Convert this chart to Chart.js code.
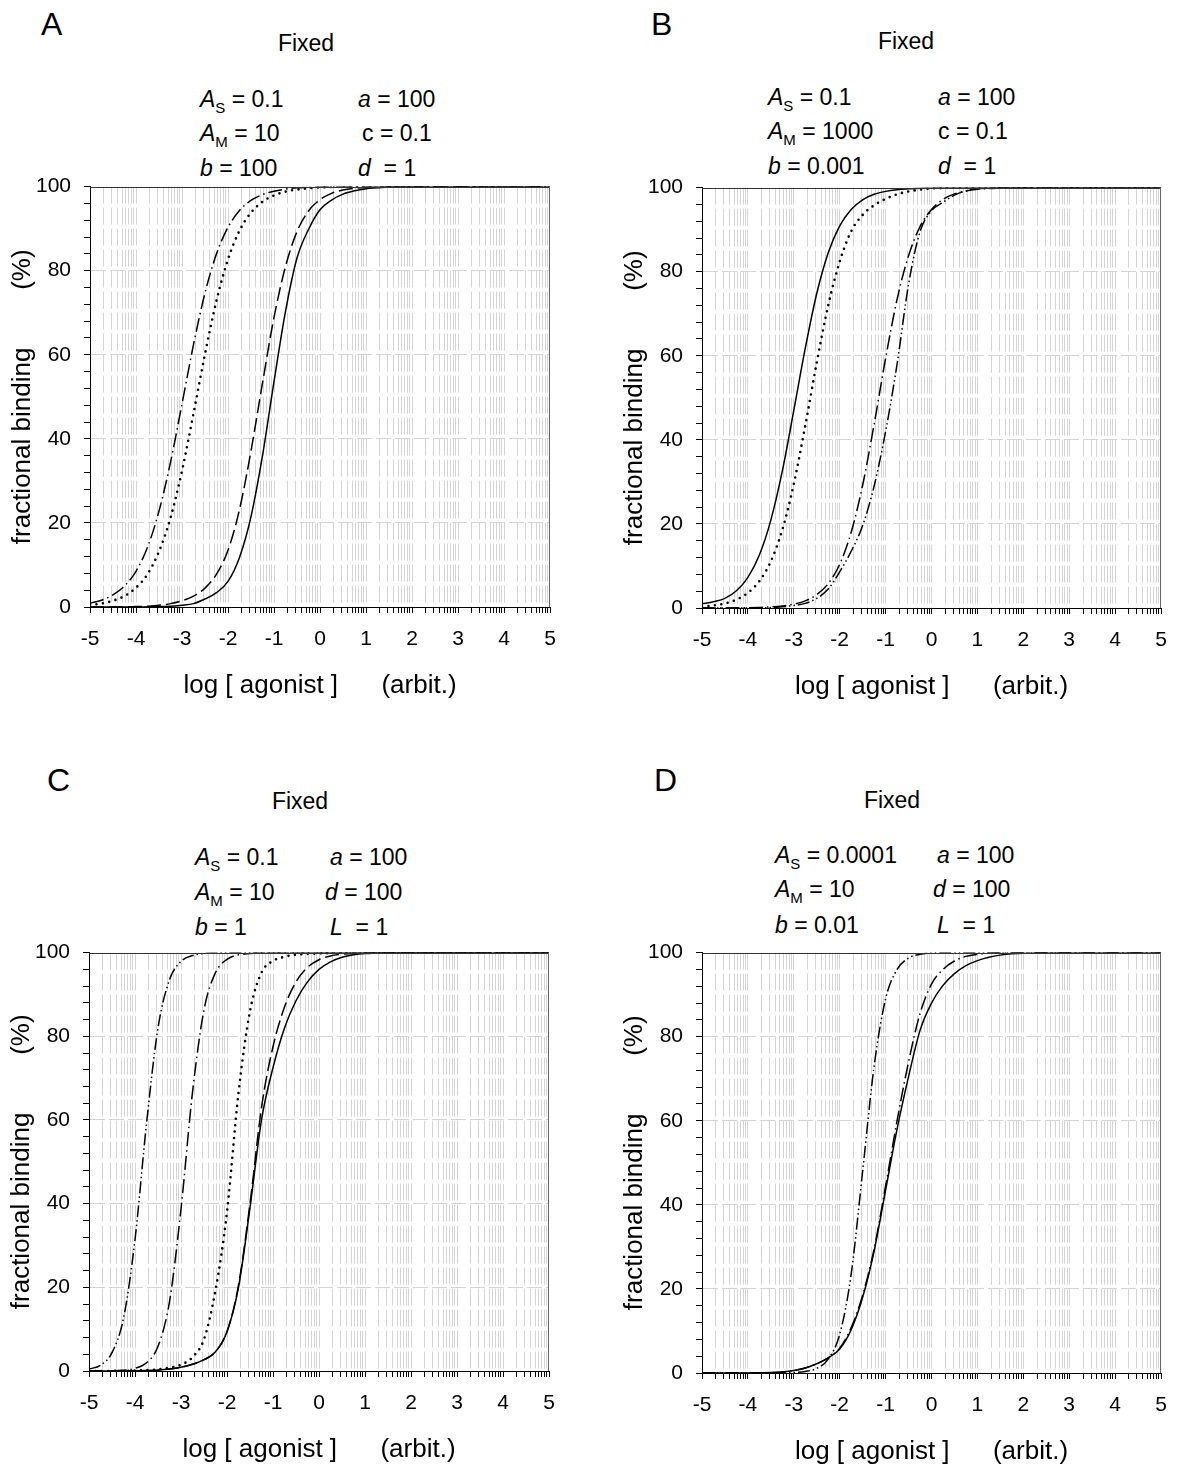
<!DOCTYPE html>
<html>
<head>
<meta charset="utf-8">
<script src="https://cdn.jsdelivr.net/npm/chart.js@4.4.1/dist/chart.umd.min.js"></script>
<style>
  body { margin: 0; width: 1200px; height: 1464px; position: relative; background: #fff; overflow: hidden;
         font-family: "Liberation Sans", Arial, sans-serif; color: #000; }
  canvas { position: absolute; }
  .t { position: absolute; white-space: pre; line-height: 1; }
  .letter { font-size: 32px; }
  .fixed { font-size: 23px; width: 120px; text-align: center; }
  .p { font-size: 23px; }
  .p i { font-style: italic; }
  .p .s { font-size: 15px; position: relative; top: 6px; }
</style>
</head>
<body>

<div class="t letter" style="left:41px; top:8px">A</div>
<div class="t fixed" style="left:246px; top:32px">Fixed</div>
<div class="t p" style="left:200px; top:88px"><i>A</i><span class="s">S</span> = 0.1</div>
<div class="t p" style="left:358px; top:88px"><i>a</i> = 100</div>
<div class="t p" style="left:200px; top:122px"><i>A</i><span class="s">M</span> = 10</div>
<div class="t p" style="left:362px; top:122px">c = 0.1</div>
<div class="t p" style="left:200px; top:157px"><i>b</i> = 100</div>
<div class="t p" style="left:358px; top:157px"><i>d</i>  = 1</div>

<div class="t letter" style="left:651px; top:8px">B</div>
<div class="t fixed" style="left:846px; top:30px">Fixed</div>
<div class="t p" style="left:768px; top:86px"><i>A</i><span class="s">S</span> = 0.1</div>
<div class="t p" style="left:938px; top:86px"><i>a</i> = 100</div>
<div class="t p" style="left:768px; top:120px"><i>A</i><span class="s">M</span> = 1000</div>
<div class="t p" style="left:938px; top:120px">c = 0.1</div>
<div class="t p" style="left:768px; top:155px"><i>b</i> = 0.001</div>
<div class="t p" style="left:938px; top:155px"><i>d</i>  = 1</div>

<div class="t letter" style="left:47px; top:764px">C</div>
<div class="t fixed" style="left:240px; top:790px">Fixed</div>
<div class="t p" style="left:195px; top:846px"><i>A</i><span class="s">S</span> = 0.1</div>
<div class="t p" style="left:330px; top:846px"><i>a</i> = 100</div>
<div class="t p" style="left:195px; top:881px"><i>A</i><span class="s">M</span> = 10</div>
<div class="t p" style="left:325px; top:881px"><i>d</i> = 100</div>
<div class="t p" style="left:195px; top:916px"><i>b</i> = 1</div>
<div class="t p" style="left:330px; top:916px"><i>L</i>  = 1</div>

<div class="t letter" style="left:654px; top:764px">D</div>
<div class="t fixed" style="left:832px; top:789px">Fixed</div>
<div class="t p" style="left:775px; top:844px"><i>A</i><span class="s">S</span> = 0.0001</div>
<div class="t p" style="left:937px; top:844px"><i>a</i> = 100</div>
<div class="t p" style="left:775px; top:878px"><i>A</i><span class="s">M</span> = 10</div>
<div class="t p" style="left:933px; top:878px"><i>d</i> = 100</div>
<div class="t p" style="left:775px; top:914px"><i>b</i> = 0.01</div>
<div class="t p" style="left:937px; top:914px"><i>L</i>  = 1</div>

<canvas id="chartA" width="580" height="546" style="left:0px; top:161px"></canvas>
<canvas id="chartB" width="579" height="546" style="left:612px; top:162px"></canvas>
<canvas id="chartC" width="580" height="544" style="left:-1px; top:927px"></canvas>
<canvas id="chartD" width="579" height="546" style="left:612px; top:927px"></canvas>

<script>
// log [agonist] sample points shared by every curve
const logX = [-5, -4.75, -4.5, -4.25, -4, -3.75, -3.5, -3.25, -3, -2.75, -2.5, -2.25, -2, -1.75, -1.5, -1.25,
              -1, -0.75, -0.5, -0.25, 0, 0.25, 0.5, 0.75, 1, 1.25, 1.5, 1.75, 2, 3, 4, 5]

const xMajor = [-5, -4, -3, -2, -1, 0, 1, 2, 3, 4, 5]
const yLabels = [0, 20, 40, 60, 80, 100]

// panel A
const aDashDot = [0.9, 1.6, 2.9, 5.0, 8.5, 14.2, 22.8, 34.4, 48.3, 62.4, 74.7, 84.0, 90.3, 94.3, 96.7, 98.1,
                  98.9, 99.4, 99.7, 99.8, 99.9, 100, 100, 100, 100, 100, 100, 100, 100, 100, 100, 100]
const aDotted = [0.5, 0.8, 1.5, 2.6, 4.6, 7.8, 13.2, 21.2, 32.4, 46.0, 60.2, 72.9, 82.7, 89.5, 93.8, 96.4,
                 97.9, 98.8, 99.3, 99.6, 99.8, 99.9, 100, 100, 100, 100, 100, 100, 100, 100, 100, 100]
const aDash = [0, 0, 0, 0, 0.1, 0.2, 0.4, 0.8, 1.5, 2.6, 4.5, 7.8, 13.5, 23.2, 37.1, 53.3,
               68.9, 81.0, 89.3, 94.2, 96.9, 98.4, 99.2, 99.6, 99.8, 99.9, 100, 100, 100, 100, 100, 100]
const aSolid = [0, 0, 0, 0, 0, 0.05, 0.1, 0.2, 0.4, 0.8, 1.9, 3.4, 6.1, 11.8, 21.5, 36.0,
                53.6, 70.3, 83.0, 89.8, 94.5, 96.8, 98.2, 99.0, 99.5, 99.7, 99.9, 100, 100, 100, 100, 100]

// panel B
const bSolid = [1.0, 1.5, 2.3, 4.1, 7.3, 12.6, 20.9, 32.6, 47.0, 61.8, 74.8, 84.5, 90.9, 94.8, 97.1, 98.4,
                99.1, 99.5, 99.7, 99.85, 99.9, 100, 100, 100, 100, 100, 100, 100, 100, 100, 100, 100]
const bDotted = [0.3, 0.6, 1.1, 2.0, 3.6, 6.4, 11.1, 18.6, 29.5, 43.4, 58.4, 72.0, 82.4, 89.6, 93.5, 95.8,
                 97.3, 98.4, 99.1, 99.5, 99.8, 99.9, 100, 100, 100, 100, 100, 100, 100, 100, 100, 100]
const bDashDot = [0, 0, 0.02, 0.04, 0.07, 0.14, 0.26, 0.49, 0.92, 1.7, 3.2, 5.8, 10.4, 18.0, 29.2, 43.7,
                  59.4, 73.4, 83.8, 90.7, 94.8, 97.2, 98.5, 99.2, 99.6, 99.8, 99.9, 100, 100, 100, 100, 100]
const bDashDotDot = [0, 0, 0, 0.01, 0.02, 0.05, 0.1, 0.3, 0.6, 1.1, 2.3, 4.5, 8.6, 13.5, 19.6, 29,
                     42, 58, 77, 89.5, 94.5, 96.5, 98.2, 99.2, 99.7, 99.9, 100, 100, 100, 100, 100, 100]

// panel C
const cDashDotDot = [0.45, 1.4, 4.4, 12.6, 31.4, 59.1, 82.0, 93.5, 97.9, 99.3, 99.8, 99.9, 100, 100, 100, 100,
                     100, 100, 100, 100, 100, 100, 100, 100, 100, 100, 100, 100, 100, 100, 100, 100]
const cDashDot = [0.01, 0.02, 0.06, 0.2, 0.63, 1.96, 5.9, 16.6, 38.7, 66.6, 86.3, 95.2, 98.4, 99.5, 99.8, 99.95,
                  100, 100, 100, 100, 100, 100, 100, 100, 100, 100, 100, 100, 100, 100, 100, 100]
const cDotted = [0, 0.01, 0.02, 0.05, 0.1, 0.2, 0.4, 0.8, 1.5, 3.3, 7.6, 19.3, 38, 66.5, 86, 95.2,
                 98.0, 99.0, 99.5, 99.7, 99.8, 99.9, 100, 100, 100, 100, 100, 100, 100, 100, 100, 100]
const cDash = [0, 0, 0, 0.02, 0.05, 0.1, 0.2, 0.45, 0.9, 1.6, 2.7, 4.6, 9.4, 20.5, 40, 63,
               77.5, 87, 93, 96.5, 98.3, 99.2, 99.6, 99.8, 99.9, 100, 100, 100, 100, 100, 100, 100]
const cSolid = [0, 0, 0, 0.02, 0.05, 0.1, 0.2, 0.45, 0.9, 1.6, 2.7, 4.6, 9.4, 20, 39, 60,
                72.5, 82, 88.5, 93, 96, 97.8, 98.9, 99.5, 99.8, 99.9, 100, 100, 100, 100, 100, 100]

// panel D
const dDashDotDot = [0, 0, 0, 0, 0.01, 0.02, 0.04, 0.08, 0.13, 0.38, 1.1, 3.3, 9.2, 23.5, 48, 73,
                     89, 96, 98.7, 99.6, 99.9, 100, 100, 100, 100, 100, 100, 100, 100, 100, 100, 100]
const dDashDot = [0, 0, 0, 0, 0.02, 0.05, 0.1, 0.25, 0.6, 1.2, 2.2, 3.6, 5.9, 10.8, 18.5, 29.5,
                  44.5, 60, 74, 85.5, 92.5, 96, 98, 99.1, 99.6, 99.85, 99.95, 100, 100, 100, 100, 100]
const dSolid = [0, 0, 0, 0, 0.02, 0.05, 0.1, 0.25, 0.6, 1.2, 2.2, 3.6, 5.7, 10.3, 18, 29,
                43.5, 58, 70.5, 81.5, 88, 92.2, 95, 96.9, 98.1, 98.9, 99.4, 99.7, 99.85, 100, 100, 100]

const styles = {
  solid: { borderDash: [], borderWidth: 1.5, borderCapStyle: 'butt' },
  dash: { borderDash: [14, 5], borderWidth: 1.5, borderCapStyle: 'butt' },
  dotted: { borderDash: [0, 6.5], borderWidth: 2.6, borderCapStyle: 'round' },
  dashDot: { borderDash: [14, 4, 1.5, 4], borderWidth: 1.5, borderCapStyle: 'butt' },
  dashDotDot: { borderDash: [12, 3, 1.5, 3, 1.5, 3], borderWidth: 1.5, borderCapStyle: 'butt' }
}

// log-decade minor positions (2..9) plus the decades
const xTicks = []
xMajor.forEach(d => {
  xTicks.push(d)
  if (d < 5) for (let k = 2; k <= 9; k++) xTicks.push(d + Math.log10(k))
})

const isInt = v => Math.abs(v - Math.round(v)) < 1e-6
const gridGrey = '#d4d4d4'
const tickFont = { family: 'Liberation Sans', size: 21 }
const titleFont = { family: 'Liberation Sans', size: 26 }

const frame = {
  id: 'frame',
  afterDraw(chart) {
    const { ctx, chartArea: a } = chart
    ctx.save()
    ctx.lineWidth = 1
    ctx.strokeStyle = '#333'
    ctx.beginPath()
    ctx.moveTo(a.left, Math.round(a.top) + 0.5)
    ctx.lineTo(a.right, Math.round(a.top) + 0.5)
    ctx.stroke()
    ctx.strokeStyle = '#666'
    ctx.beginPath()
    ctx.moveTo(Math.round(a.right) - 0.5, a.top)
    ctx.lineTo(Math.round(a.right) - 0.5, a.bottom)
    ctx.stroke()
    ctx.restore()
  }
}

function makeChart(id, curves) {
  new Chart(document.getElementById(id), {
    type: 'line',
    data: {
      datasets: curves.map(c => ({
        data: c.values.map((v, i) => ({ x: logX[i], y: v })),
        borderColor: '#000',
        ...styles[c.style],
        pointRadius: 0,
        fill: false,
        cubicInterpolationMode: 'monotone'
      }))
    },
    options: {
      responsive: false,
      animation: false,
      devicePixelRatio: 1,
      layout: { padding: { top: 16, right: 30, left: 0, bottom: 0 } },
      plugins: { legend: { display: false }, tooltip: { enabled: false } },
      scales: {
        x: {
          type: 'linear',
          min: -5,
          max: 5,
          afterBuildTicks: scale => { scale.ticks = xTicks.map(v => ({ value: v })) },
          afterFit: scale => { scale.height = 100 },
          ticks: {
            autoSkip: false,
            maxRotation: 0,
            padding: 14,
            color: '#000',
            font: tickFont,
            callback: v => isInt(v) ? String(Math.round(v)) : ''
          },
          grid: {
            color: ctx => (ctx.tick && (ctx.tick.value <= -5 || ctx.tick.value >= 5)) ? 'rgba(0,0,0,0)' : gridGrey,
            tickColor: '#000',
            tickLength: 6,
            lineWidth: 1
          },
          border: { color: '#000', width: 1, dash: [17, 4] },
          title: {
            display: true,
            text: 'log [ agonist ]      (arbit.)',
            color: '#000',
            font: titleFont,
            padding: { top: 0, bottom: 6 }
          }
        },
        y: {
          min: 0,
          max: 100,
          afterFit: scale => { scale.width = 90 },
          ticks: {
            stepSize: 4,
            autoSkip: false,
            padding: 13,
            color: '#000',
            font: tickFont,
            callback: v => yLabels.includes(v) ? String(v) : ''
          },
          grid: {
            color: ctx => (ctx.tick && ctx.tick.value % 20 === 0 && ctx.tick.value > 0 && ctx.tick.value < 100) ? gridGrey : 'rgba(0,0,0,0)',
            tickColor: '#000',
            tickLength: 6,
            lineWidth: 1
          },
          border: { color: '#000', width: 1, dash: [15, 4] },
          title: {
            display: true,
            text: 'fractional binding        (%)',
            color: '#000',
            font: titleFont,
            padding: { top: 7, bottom: 0 }
          }
        }
      }
    },
    plugins: [frame]
  })
}

makeChart('chartA', [
  { values: aDashDot, style: 'dashDot' },
  { values: aDotted, style: 'dotted' },
  { values: aDash, style: 'dash' },
  { values: aSolid, style: 'solid' }
])
makeChart('chartB', [
  { values: bSolid, style: 'solid' },
  { values: bDotted, style: 'dotted' },
  { values: bDashDot, style: 'dashDot' },
  { values: bDashDotDot, style: 'dashDotDot' }
])
makeChart('chartC', [
  { values: cDashDotDot, style: 'dashDotDot' },
  { values: cDashDot, style: 'dashDot' },
  { values: cDotted, style: 'dotted' },
  { values: cDash, style: 'dash' },
  { values: cSolid, style: 'solid' }
])
makeChart('chartD', [
  { values: dDashDotDot, style: 'dashDotDot' },
  { values: dDashDot, style: 'dashDot' },
  { values: dSolid, style: 'solid' }
])
</script>
</body>
</html>
